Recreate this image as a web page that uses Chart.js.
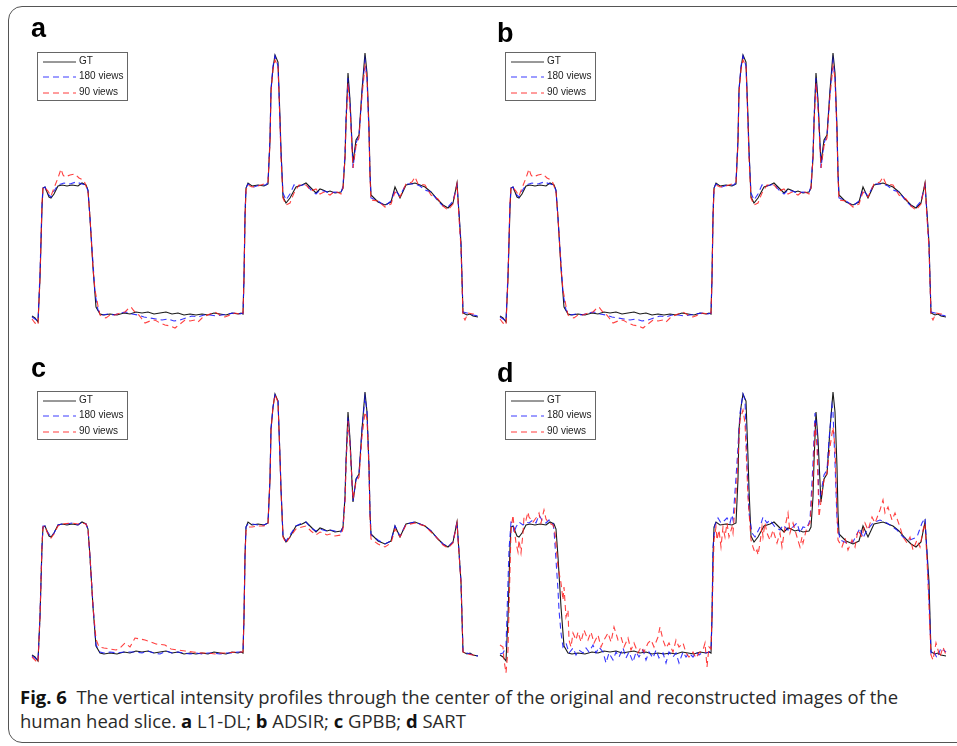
<!DOCTYPE html>
<html>
<head>
<meta charset="utf-8">
<script src="https://cdn.jsdelivr.net/npm/chart.js@4.4.1/dist/chart.umd.min.js"></script>
<style>
  html, body { margin:0; padding:0; background:#fff; }
  body { width:957px; height:746px; position:relative; overflow:hidden; font-family:"Liberation Sans", Arial, sans-serif; }
  .frame { position:absolute; left:8px; top:6px; width:980px; height:737px; border:1px solid #555; border-radius:14px; box-sizing:border-box; }
  canvas { position:absolute; }
  .lab { position:absolute; font:bold 27px "Liberation Sans", Arial, sans-serif; line-height:27px; color:#000; }
  .legend { position:absolute; width:91px; height:49px; border:1px solid #666; box-sizing:border-box; background:#fff; }
  .legend .row { position:absolute; left:0; height:12px; width:100%; }
  .legend svg { position:absolute; left:5px; top:0; }
  .legend span { position:absolute; left:41px; top:-1px; font:10px "Liberation Sans", Arial, sans-serif; line-height:12px; color:#222; white-space:nowrap; }
  .caption { position:absolute; left:20px; top:685px; font:18px "Liberation Sans Narrow", "Open Sans", sans-serif; line-height:24px; color:#2a2a2a; white-space:nowrap; transform-origin:0 0; }
  .caption b { font-weight:bold; color:#111; }
</style>
</head>
<body>
<div class="frame"></div>

<script>
// ---------------- data (x = sample position along profile, y = intensity) ----------------
const seriesNames = ["GT", "180 views", "90 views"];
const panelLetters = ["a", "b", "c", "d"];

const gtProfile = [[0,2],[3,0],[6,-4],[8,40],[10,110],[11,130],[13,131],[15,126],[17,121],[19,120],[22,124],[26,132],[30,133],[35,132],[40,133],[46,132],[50,135],[54,133],[56,128],[58,100],[61,50],[64,11],[68,4],[72,3],[78,4],[85,3],[92,5],[98,4],[104,6],[110,5],[116,6],[122,4],[128,5],[134,6],[140,4],[146,5],[152,3],[158,4],[164,3],[170,4],[176,3],[182,5],[188,4],[194,3],[200,5],[206,4],[209,5],[211,4],[212,40],[213,100],[214,130],[216,135],[220,132],[226,133],[232,132],[236,134],[238,178],[239,228],[241,250],[243,263],[246,256],[248,200],[249,168],[251,121],[254,115],[258,120],[264,131],[270,133],[274,135],[279,130],[284,125],[288,129],[291,128],[295,126],[298,127],[303,125],[309,126],[311,130],[313,160],[314,195],[316,245],[318,218],[320,175],[321,155],[324,178],[327,183],[330,228],[333,265],[335,245],[337,190],[338,145],[339,123],[346,116],[353,113],[359,116],[363,131],[368,120],[374,133],[383,135],[393,131],[399,126],[406,118],[411,113],[416,110],[421,115],[425,135],[427,105],[429,75],[431,5],[435,3],[438,4],[441,2],[446,1]];

const a180 = [[0,1],[3,-1],[6,-3],[8,45],[10,115],[11,130],[13,131],[15,125],[19,121],[22,127],[26,133],[32,135],[38,134],[44,136],[50,134],[54,133],[56,127],[58,100],[61,55],[63,25],[66,8],[70,3],[76,4],[82,3],[88,5],[94,6],[100,4],[106,3],[112,1],[118,0],[124,-1],[130,-2],[136,-1],[142,-3],[148,-2],[154,0],[160,2],[166,1],[172,3],[178,3],[184,2],[190,3],[196,4],[202,5],[208,4],[211,5],[212,40],[213,105],[214,130],[216,134],[222,131],[228,133],[234,133],[236,136],[238,180],[239,228],[241,252],[243,262],[246,252],[248,195],[249,165],[251,125],[254,118],[258,124],[262,133],[267,132],[274,134],[279,128],[284,124],[288,128],[292,127],[298,125],[303,126],[309,125],[311,132],[313,165],[314,200],[316,240],[318,215],[321,150],[324,175],[327,182],[330,225],[333,258],[335,240],[337,185],[338,145],[339,120],[346,117],[353,112],[359,117],[363,128],[368,122],[374,134],[383,134],[388,132],[393,128],[399,126],[406,117],[411,112],[416,111],[421,117],[425,133],[427,104],[429,72],[431,6],[435,5],[441,3],[446,2]];

const a90 = [[0,-1],[3,-5],[6,-7],[8,40],[10,115],[11,131],[13,130],[16,127],[19,122],[22,130],[26,140],[29,149],[31,143],[33,141],[38,143],[43,144],[47,140],[51,138],[53,135],[56,126],[58,100],[61,50],[63,28],[66,12],[68,3],[71,1],[74,0],[78,3],[83,3],[88,5],[93,6],[96,9],[99,11],[102,7],[106,4],[110,-1],[113,-5],[118,-3],[123,-2],[128,-5],[133,-7],[138,-8],[143,-10],[148,-6],[153,-2],[158,-3],[163,-2],[166,-4],[170,0],[173,2],[178,4],[183,6],[188,3],[193,1],[198,3],[203,5],[207,4],[209,6],[211,5],[212,40],[213,100],[214,128],[216,133],[220,131],[226,132],[232,134],[236,136],[238,175],[239,225],[241,248],[243,258],[246,252],[248,195],[249,160],[251,120],[254,113],[258,115],[262,125],[267,133],[274,133],[279,127],[284,129],[288,124],[292,126],[298,123],[303,127],[309,124],[311,130],[313,160],[314,192],[316,235],[318,210],[321,150],[324,172],[327,180],[330,222],[333,252],[335,240],[337,185],[338,140],[339,118],[346,117],[353,111],[359,114],[363,126],[368,121],[374,134],[380,136],[383,141],[386,134],[393,133],[399,123],[406,119],[411,112],[416,108],[421,114],[425,134],[427,100],[429,70],[431,2],[433,-2],[436,5],[441,4],[446,4]];

const b180 = a180;
const b90 = a90;

const c180 = [[0,1],[3,-1],[6,-4],[8,42],[10,112],[11,131],[13,131],[15,126],[19,120],[22,124],[26,132],[30,133],[35,133],[40,134],[46,132],[50,135],[54,133],[56,128],[58,100],[61,52],[64,12],[68,5],[72,4],[78,5],[85,4],[92,5],[98,5],[104,5],[110,4],[116,6],[122,4],[128,3],[134,6],[140,4],[146,5],[152,4],[158,3],[164,4],[170,3],[176,4],[182,4],[188,3],[194,4],[200,4],[206,5],[209,5],[211,5],[212,40],[213,102],[214,130],[216,133],[220,133],[226,132],[232,132],[236,134],[238,178],[239,228],[241,250],[243,262],[246,256],[248,200],[249,168],[251,121],[254,116],[258,122],[264,131],[270,134],[274,135],[279,129],[284,126],[288,128],[291,127],[295,126],[298,127],[303,126],[309,125],[311,130],[313,160],[314,195],[316,240],[318,216],[320,175],[321,156],[324,177],[327,183],[330,228],[333,260],[335,245],[337,190],[338,145],[339,122],[346,117],[353,113],[359,116],[363,131],[368,121],[374,133],[383,135],[393,131],[399,126],[406,118],[411,113],[416,110],[421,115],[425,135],[427,105],[429,75],[431,5],[435,4],[441,2],[446,1]];

const c90 = [[0,0],[3,-3],[6,-6],[8,40],[10,112],[11,130],[13,131],[15,125],[19,119],[22,123],[26,131],[30,133],[40,134],[46,133],[50,134],[54,133],[56,128],[58,100],[61,50],[64,18],[67,10],[72,9],[78,8],[84,7],[88,9],[93,14],[98,10],[103,19],[108,18],[113,17],[119,15],[124,13],[133,12],[139,8],[146,7],[153,6],[161,5],[169,4],[176,4],[183,3],[190,4],[196,4],[203,5],[209,5],[211,5],[212,40],[213,100],[214,126],[216,130],[220,130],[226,131],[232,131],[236,133],[238,178],[239,226],[241,250],[243,262],[246,255],[248,198],[249,166],[251,120],[254,114],[258,120],[264,128],[270,130],[274,131],[279,126],[284,122],[288,125],[291,124],[295,122],[298,123],[303,121],[309,122],[311,128],[313,155],[314,190],[316,236],[318,212],[321,158],[324,175],[327,180],[330,220],[333,245],[335,238],[337,188],[338,140],[339,118],[346,113],[353,110],[359,114],[363,128],[368,120],[374,132],[383,134],[393,131],[399,125],[406,118],[411,112],[416,109],[421,114],[425,134],[427,104],[429,74],[431,5],[435,3],[441,2],[446,1]];

const d180 = [[0,3],[3,4],[6,10],[9,107],[11,135],[13,134],[14,124],[16,130],[19,135],[23,132],[26,135],[29,134],[33,137],[36,134],[39,142],[43,135],[46,134],[49,137],[53,134],[54,127],[58,67],[59,47],[61,24],[63,10],[66,14],[69,4],[73,9],[76,2],[79,7],[83,4],[86,9],[89,5],[93,12],[96,4],[99,10],[103,5],[106,-6],[109,4],[113,-3],[116,5],[119,0],[123,9],[126,-1],[129,5],[133,-5],[136,5],[139,0],[143,7],[146,-3],[149,5],[153,-1],[156,7],[159,-1],[163,4],[166,-6],[169,5],[173,0],[176,4],[179,-6],[183,5],[186,0],[189,4],[193,0],[196,5],[199,2],[203,5],[206,4],[209,5],[211,6],[212,40],[213,110],[215,132],[218,139],[221,134],[223,135],[227,139],[230,134],[232,142],[233,137],[237,194],[240,244],[243,263],[245,257],[247,194],[249,144],[252,124],[255,120],[260,130],[263,140],[267,134],[270,137],[275,130],[280,127],[283,132],[288,127],[293,130],[297,134],[300,124],[303,130],[307,129],[310,137],[313,194],[315,244],[317,227],[319,154],[322,170],[324,182],[327,187],[329,217],[332,252],[333,245],[335,194],[337,137],[340,117],[347,114],[353,115],[360,129],[363,119],[367,127],[373,134],[380,137],[387,134],[397,127],[403,120],[410,117],[417,120],[422,134],[425,139],[427,104],[429,60],[431,4],[433,7],[437,-1],[441,9],[446,5]];

const d90 = [[0,12],[3,10],[4,-3],[6,-16],[8,7],[11,127],[13,142],[14,130],[16,114],[18,105],[19,117],[21,104],[23,124],[24,140],[26,137],[28,145],[29,140],[33,135],[36,139],[39,144],[41,134],[44,147],[46,138],[49,134],[53,132],[55,124],[58,90],[61,74],[63,57],[64,70],[66,40],[68,47],[69,17],[71,10],[73,24],[76,17],[78,25],[81,15],[84,27],[88,17],[91,25],[94,14],[98,22],[101,10],[104,17],[108,24],[111,15],[114,30],[118,17],[121,20],[124,10],[128,19],[131,7],[134,14],[138,4],[141,10],[144,5],[148,14],[151,17],[154,10],[158,20],[160,30],[163,17],[166,9],[169,14],[173,5],[176,17],[179,10],[183,14],[186,4],[189,0],[193,5],[196,-1],[199,4],[203,7],[205,14],[207,-10],[209,10],[211,8],[212,40],[214,117],[216,130],[217,117],[219,127],[221,110],[223,130],[225,120],[227,134],[229,120],[232,130],[233,124],[237,177],[240,237],[243,247],[245,234],[248,160],[251,117],[253,110],[255,104],[257,107],[258,102],[260,114],[262,130],[263,120],[265,134],[267,124],[270,117],[273,127],[277,114],[280,124],[282,110],[285,130],[288,144],[290,124],[293,134],[297,120],[300,110],[302,120],[303,114],[307,130],[310,134],[313,177],[315,234],[317,210],[319,140],[322,164],[324,177],[327,184],[330,210],[333,230],[335,210],[337,144],[338,117],[342,110],[345,119],[348,107],[352,117],[355,110],[358,127],[362,120],[365,134],[368,127],[372,140],[375,134],[380,147],[383,157],[385,144],[388,150],[392,137],[395,144],[400,130],[403,120],[407,114],[410,120],[413,107],[417,117],[420,110],[423,127],[425,134],[427,97],[429,50],[431,2],[433,-3],[436,14],[440,0],[443,10],[446,2]];

// ---------------- layout ----------------
const panels = [
  { letter:"a", left:26,  top:40,  s180:a180, s90:a90, labX:31,  labY:15 },
  { letter:"b", left:494, top:40,  s180:b180, s90:b90, labX:497, labY:20 },
  { letter:"c", left:26,  top:379, s180:c180, s90:c90, labX:31,  labY:355 },
  { letter:"d", left:494, top:379, s180:d180, s90:d90, labX:497, labY:360 }
];
const CW = 460, CH = 300;
const X_MIN = -6, X_MAX = 454, Y_MIN = -22, Y_MAX = 278;

const styles = [
  { color:"#1a1a1a", dash:[] , width:1.1 },
  { color:"rgba(20,20,255,0.85)", dash:[6,4], width:1.1 },
  { color:"rgba(255,30,30,0.85)", dash:[6,4], width:1.1 }
];

const toXY = arr => arr.map(p => ({ x:p[0], y:p[1] }));

panels.forEach(p => {
  const cv = document.createElement("canvas");
  cv.width = CW; cv.height = CH;
  cv.style.left = p.left + "px"; cv.style.top = p.top + "px";
  cv.style.width = CW + "px"; cv.style.height = CH + "px";
  document.body.appendChild(cv);

  const sets = [gtProfile, p.s180, p.s90];
  new Chart(cv, {
    type: "line",
    data: {
      datasets: sets.map((s, i) => ({
        label: seriesNames[i],
        data: toXY(s),
        borderColor: styles[i].color,
        borderDash: styles[i].dash,
        borderWidth: styles[i].width,
        pointRadius: 0,
        tension: 0,
        fill: false,
        order: 3 - i,
        clip: false
      }))
    },
    options: {
      responsive: false,
      animation: false,
      devicePixelRatio: 1,
      layout: { padding: 0 },
      plugins: { legend: { display:false }, tooltip: { enabled:false } },
      scales: {
        x: { type:"linear", min:X_MIN, max:X_MAX, display:false },
        y: { type:"linear", min:Y_MIN, max:Y_MAX, display:false }
      }
    }
  });

  // panel letter
  const lab = document.createElement("div");
  lab.className = "lab";
  lab.textContent = p.letter;
  lab.style.left = p.labX + "px"; lab.style.top = p.labY + "px";
  document.body.appendChild(lab);

  // legend box
  const lg = document.createElement("div");
  lg.className = "legend";
  lg.style.left = (p.left + 11) + "px";
  lg.style.top = (p.top + 12) + "px";
  const rowsY = [3, 18, 34];
  seriesNames.forEach((name, i) => {
    const row = document.createElement("div");
    row.className = "row";
    row.style.top = rowsY[i] + "px";
    const dash = styles[i].dash.length ? 'stroke-dasharray="6,4"' : '';
    const col = i === 0 ? "#333" : (i === 1 ? "#3a3aff" : "#ff3a3a");
    row.innerHTML = '<svg width="34" height="12"><line x1="0" y1="6" x2="33" y2="6" stroke="' + col + '" stroke-width="1" ' + dash + '/></svg><span>' + name + '</span>';
    lg.appendChild(row);
  });
  document.body.appendChild(lg);
});
</script>

<div class="caption" id="cap"><b>Fig. 6</b>&nbsp; The vertical intensity profiles through the center of the original and reconstructed images of the<br>human head slice. <b>a</b> L1-DL; <b>b</b> ADSIR; <b>c</b> GPBB; <b>d</b> SART</div>
<script>
  // fit caption line width to the reference (about 878 px for the first line)
  (function(){
    const cap = document.getElementById("cap");
    const probe = document.createElement("span");
    probe.style.font = getComputedStyle(cap).font;
    probe.style.whiteSpace = "nowrap";
    probe.style.position = "absolute";
    probe.style.visibility = "hidden";
    probe.innerHTML = '<b>Fig. 6</b>&nbsp; The vertical intensity profiles through the center of the original and reconstructed images of the';
    document.body.appendChild(probe);
    const w = probe.getBoundingClientRect().width;
    probe.remove();
    cap.style.transform = "scaleX(" + (878 / w) + ")";
  })();
</script>
</body>
</html>
